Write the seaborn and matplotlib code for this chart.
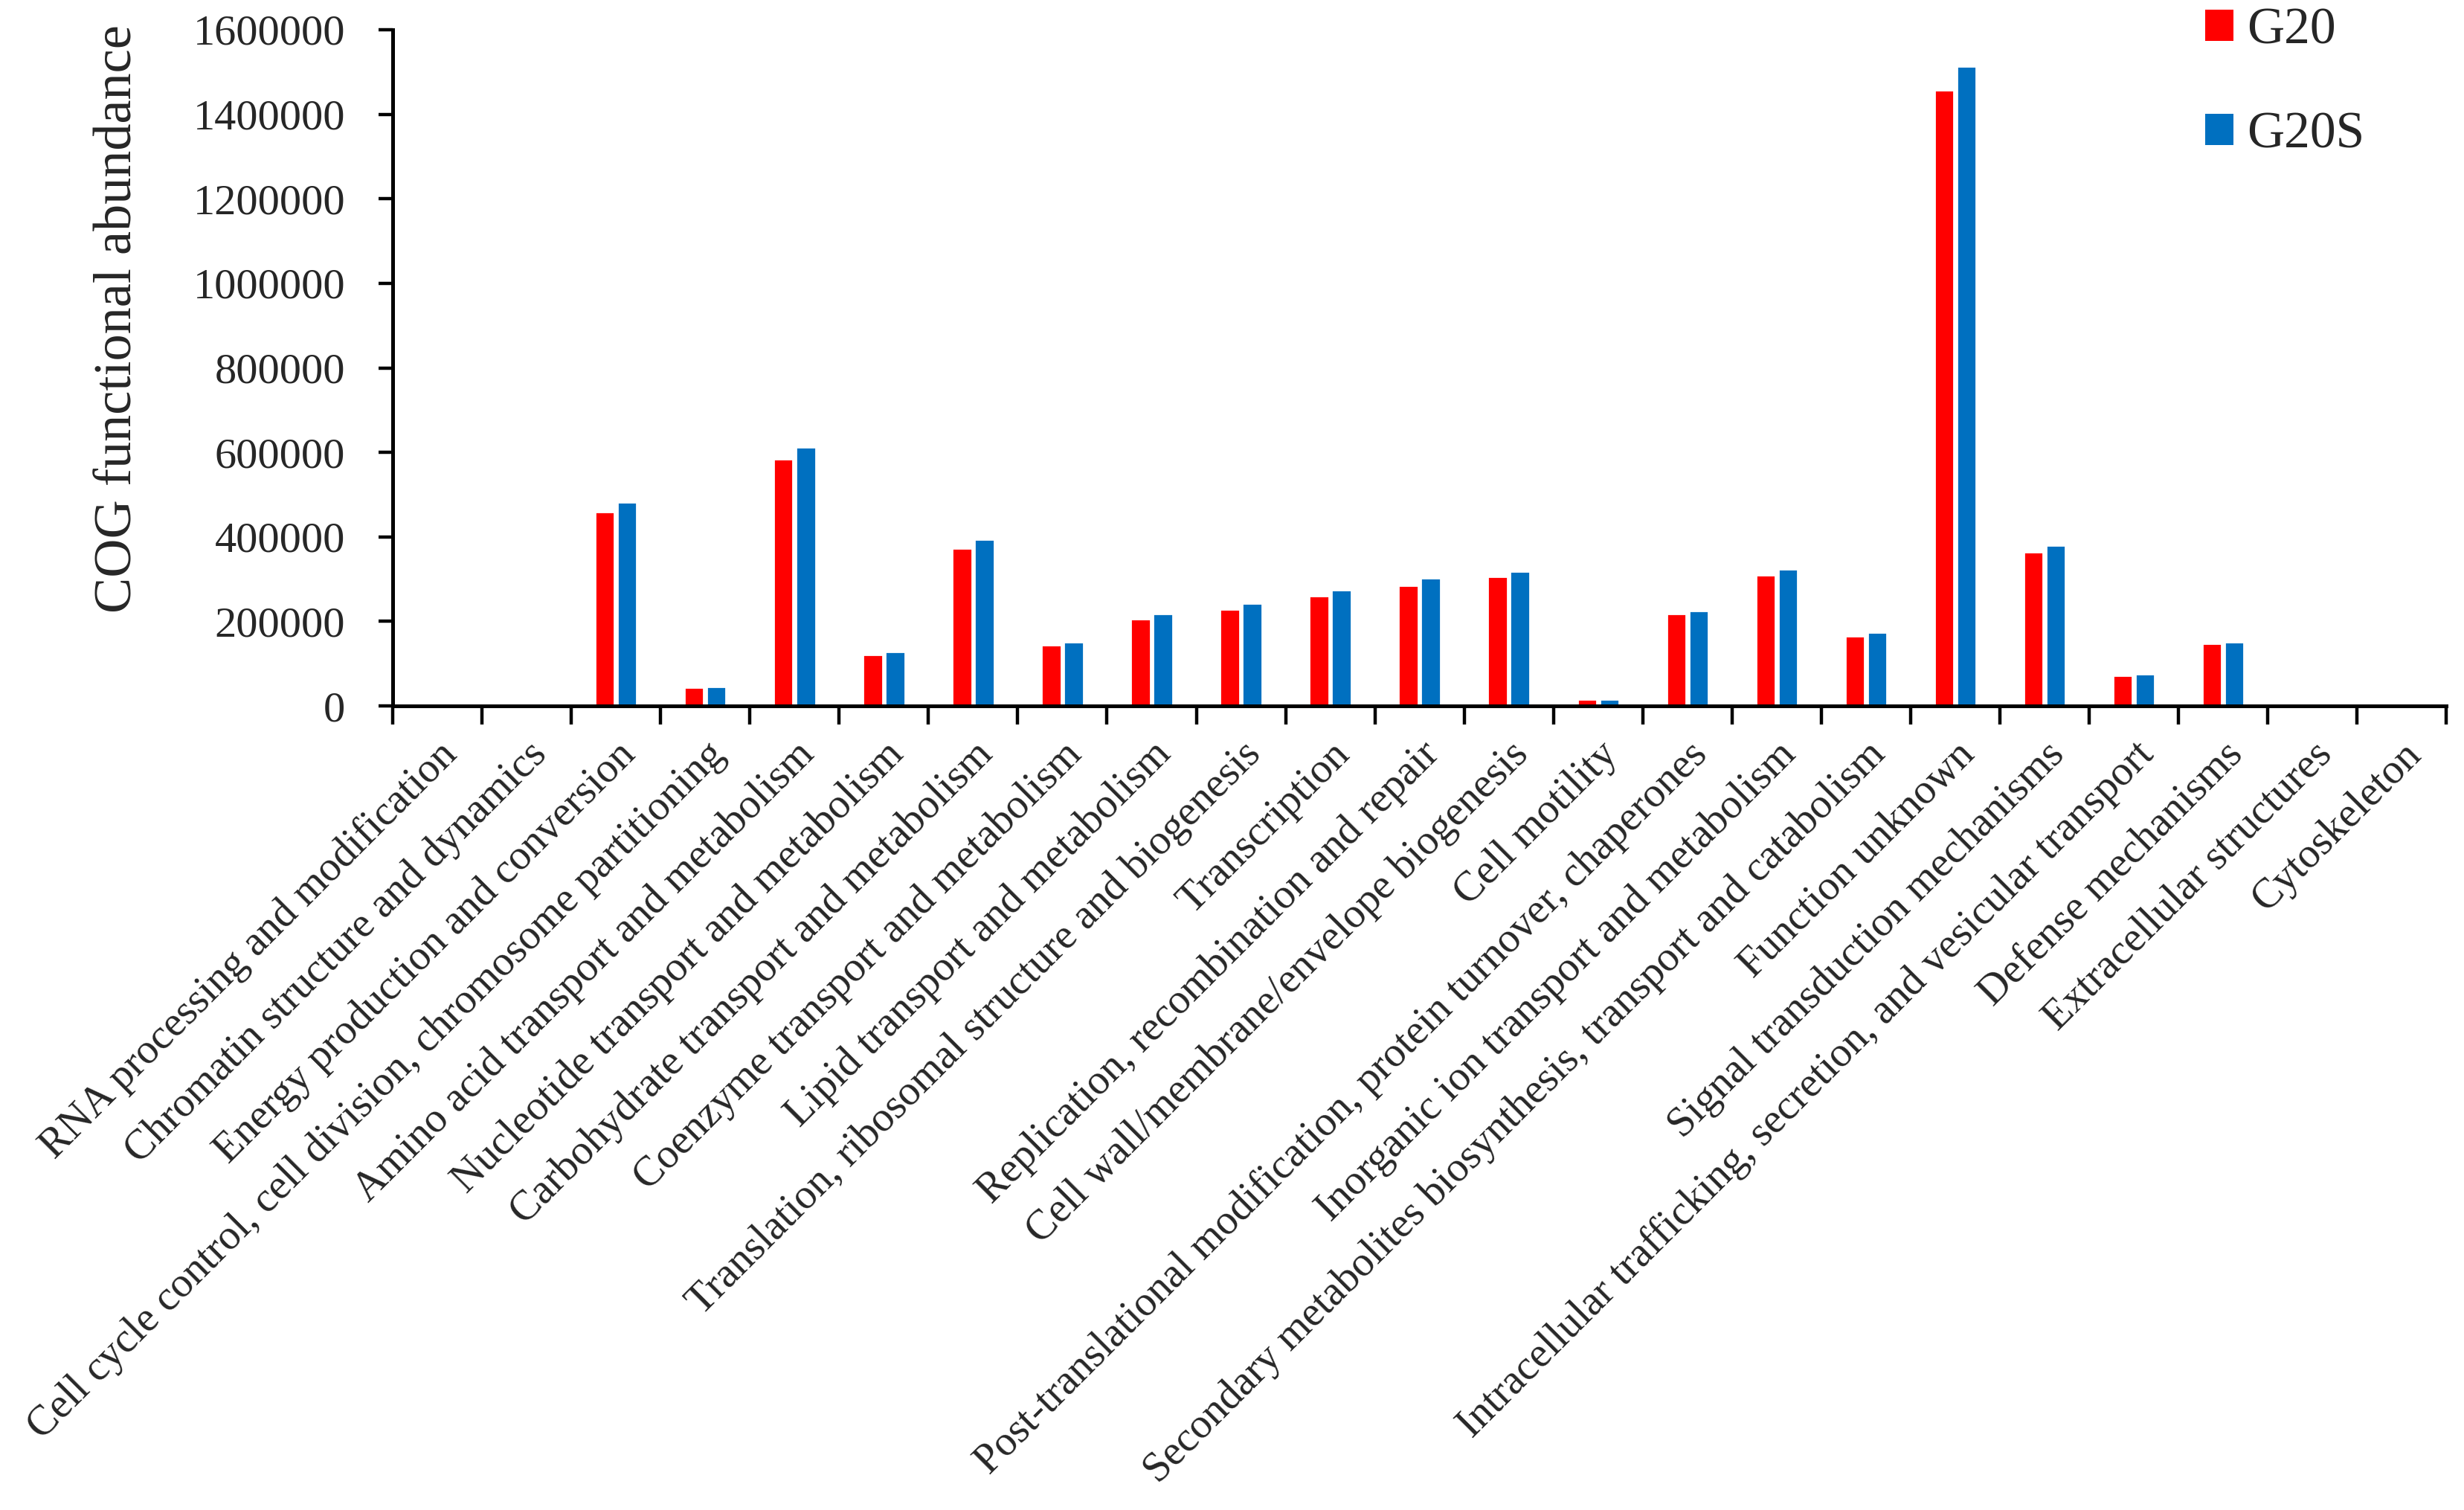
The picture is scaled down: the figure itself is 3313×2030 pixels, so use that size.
import seaborn as sns
import pandas as pd
import matplotlib.pyplot as plt
from matplotlib.patches import Patch
from matplotlib.ticker import MultipleLocator, FixedLocator

categories = [
    "RNA processing and modification",
    "Chromatin structure and dynamics",
    "Energy production and conversion",
    "Cell cycle control, cell division, chromosome partitioning",
    "Amino acid transport and metabolism",
    "Nucleotide transport and metabolism",
    "Carbohydrate transport and metabolism",
    "Coenzyme transport and metabolism",
    "Lipid transport and metabolism",
    "Translation, ribosomal structure and biogenesis",
    "Transcription",
    "Replication, recombination and repair",
    "Cell wall/membrane/envelope biogenesis",
    "Cell motility",
    "Post-translational modification, protein turnover, chaperones",
    "Inorganic ion transport and metabolism",
    "Secondary metabolites biosynthesis, transport and catabolism",
    "Function unknown",
    "Signal transduction mechanisms",
    "Intracellular trafficking, secretion, and vesicular transport",
    "Defense mechanisms",
    "Extracellular structures",
    "Cytoskeleton",
]
g20 = [0, 0, 459000, 44000, 584000, 122000, 374000, 144000, 206000, 229000,
       260000, 286000, 307000, 16000, 218000, 310000, 166000, 1458000,
       365000, 73000, 148000, 0, 0]
g20s = [0, 0, 483000, 46000, 613000, 128000, 395000, 152000, 219000, 243000,
        275000, 302000, 319000, 16000, 226000, 324000, 174000, 1514000,
        381000, 76000, 151000, 0, 0]
groups = ["G20", "G20S"]
colors = ["#FF0000", "#0070C0"]

df = pd.DataFrame({
    "category": categories * 2,
    "abundance": g20 + g20s,
    "group": [groups[0]] * len(categories) + [groups[1]] * len(categories),
})

sns.set_style("ticks")
plt.rcParams["font.family"] = ["Liberation Serif", "DejaVu Serif"]

fig = plt.figure(figsize=(16.565, 10.15), dpi=200)
ax = fig.add_axes([0.1594, 0.5325, 0.8334, 0.4478])

sns.barplot(data=df, x="category", y="abundance", hue="group",
            palette=colors, width=0.5, gap=0.12, order=categories,
            hue_order=groups, legend=False, ax=ax, saturation=1)

ax.set_ylim(0, 1600000)
ax.set_xlim(-0.5, len(categories) - 0.5)
ax.yaxis.set_major_locator(MultipleLocator(200000))
ax.set_yticklabels([f"{int(v)}" for v in ax.get_yticks()])

# labels at category centres, tick marks at boundaries
ax.set_xticks(range(len(categories)))
ax.set_xticklabels(categories, rotation=45, ha="right", rotation_mode="anchor")
ax.xaxis.set_minor_locator(FixedLocator([i - 0.5 for i in range(len(categories) + 1)]))
ax.tick_params(axis="x", which="major", length=0, pad=14, labelsize=20.3)
ax.tick_params(axis="x", which="minor", length=9, width=1.6, direction="out", color="black")
ax.tick_params(axis="y", length=7, width=1.6, direction="out", pad=16, labelsize=21, color="black")

for side in ["top", "right"]:
    ax.spines[side].set_visible(False)
for side in ["left", "bottom"]:
    ax.spines[side].set_linewidth(1.8)
    ax.spines[side].set_color("black")

ax.set_xlabel("")
ax.set_ylabel("COG functional abundance", fontsize=26)
ax.yaxis.set_label_coords(-0.122, 0.573)

handles = [Patch(facecolor=c, edgecolor="none") for c in colors]
fig.legend(handles, groups, loc="upper left", bbox_to_anchor=(0.895, 0.995),
           frameon=False, fontsize=25, handlelength=0.55, handleheight=0.55,
           handletextpad=0.25, labelspacing=1.1, borderpad=0, borderaxespad=0)

fig.savefig("out.png", dpi=200, facecolor="white")
